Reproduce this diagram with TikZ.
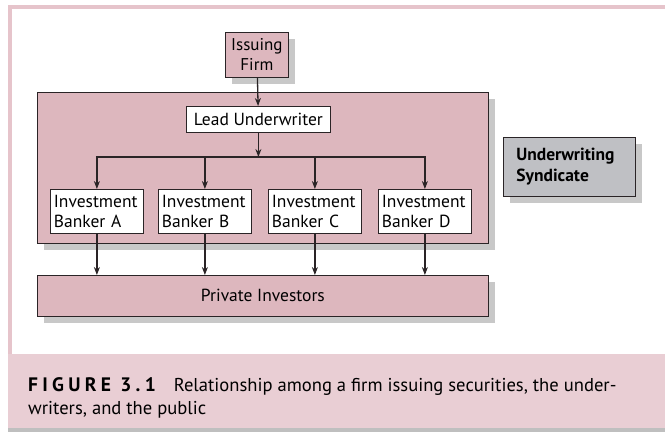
\documentclass[tikz,border=0pt]{standalone}
\usepackage{fontspec}
\setmainfont{PT Sans}
\usetikzlibrary{shadows,arrows.meta}
\definecolor{boxpink}{HTML}{DDB7BE}
\definecolor{bandpink}{HTML}{E9CED4}
\definecolor{framepink}{HTML}{E6C4CB}
\definecolor{synd}{HTML}{BFC0C4}
\definecolor{linec}{HTML}{2A2426}
\tikzset{
  x=1pt, y=-1pt,
  shad/.style={drop shadow={shadow xshift=7pt, shadow yshift=-7pt, fill=black!30, opacity=.7}},
  pinkbox/.style={draw=linec, line width=0.8pt, fill=boxpink, shad},
  boxfont/.style={font=\fontsize{17.5}{20}\selectfont},
  whitebox/.style={draw=linec, line width=0.8pt, fill=white, inner sep=0pt, boxfont},
  bankbox/.style={whitebox, minimum width=93pt, minimum height=44pt, text width=86pt, align=left},
  arr/.style={-{Stealth[length=8pt,width=6pt]}, line width=1.3pt, draw=linec},
}
\begin{document}
\begin{tikzpicture}
\useasboundingbox (0,0) rectangle (665,434);
% frame
\fill[white] (0,0) rectangle (665,434);
\fill[framepink] (8,5) rectangle (665,9);
\fill[framepink] (8,5) rectangle (12,432);
\fill[black!25] (8,428) rectangle (665,432);
\fill[bandpink] (8,354) rectangle (665,428);
% big boxes
\node[pinkbox, minimum width=451pt, minimum height=151pt, anchor=north west, inner sep=0pt] (synbox) at (37,92) {};
\node[pinkbox, minimum width=451pt, minimum height=41pt, anchor=north west, inner sep=0pt, boxfont] (inv) at (37,275) {Private Investors};
\node[pinkbox, minimum width=63pt, minimum height=45pt, anchor=north west, inner sep=0pt, align=center, font=\fontsize{17}{20}\selectfont] (firm) at (225,32) {Issuing\\Firm};
\node[draw=linec, line width=0.8pt, fill=synd, shad, minimum width=132pt, minimum height=59pt, anchor=north west, inner sep=0pt, text width=106pt, align=left, font=\fontsize{17.5}{21}\selectfont\bfseries] (us) at (503,137) {Underwriting\\Syndicate};
% inner boxes
\node[whitebox, minimum width=144pt, minimum height=26pt, anchor=north west] (lead) at (186,106) {Lead Underwriter};
\node[bankbox, anchor=north west] (A) at (50,189) {Investment\\Banker A};
\node[bankbox, anchor=north west] (B) at (158,189) {Investment\\Banker B};
\node[bankbox, anchor=north west] (C) at (268,189) {Investment\\Banker C};
\node[bankbox, anchor=north west] (D) at (378,189) {Investment\\Banker D};
\coordinate (bar) at (257,157);
% connectors
\draw[arr] (firm) -- (lead);
\draw[arr] (lead) -- (lead|-bar);
\draw[line width=2.2pt, draw=linec] ([xshift=-1.1pt]A.north|-bar) -- ([xshift=1.1pt]D.north|-bar);
\foreach \b in {A,B,C,D}{
  \draw[arr] (\b.north|-bar) -- (\b);
  \draw[arr] (\b) -- (\b.south|-inv.north);
}
% caption
\node[anchor=base west, inner sep=0pt, font=\fontsize{18.6}{23}\selectfont] (cap1) at (28,391) {{\fontsize{19.5}{23}\selectfont\bfseries\addfontfeature{LetterSpace=22}FIGURE 3.1}\hspace{18pt}Relationship among a firm issuing securities, the under-};
\node[anchor=base west, inner sep=0pt, font=\fontsize{18.6}{23}\selectfont] (cap2) at (28,414) {writers, and the public};
\end{tikzpicture}
\end{document}
